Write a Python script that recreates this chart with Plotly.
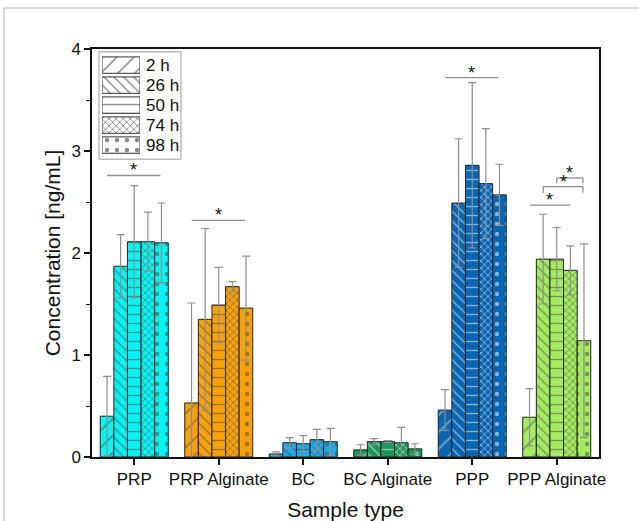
import plotly.graph_objects as go

categories = ["PRP", "PRP Alginate", "BC", "BC Alginate", "PPP", "PPP Alginate"]
time_labels = ["2 h", "26 h", "50 h", "74 h", "98 h"]

# mean concentration [ng/mL] per time point, per sample type
vals_2h = [0.40, 0.53, 0.03, 0.07, 0.46, 0.39]
vals_26h = [1.87, 1.35, 0.14, 0.15, 2.49, 1.94]
vals_50h = [2.11, 1.49, 0.13, 0.15, 2.86, 1.94]
vals_74h = [2.11, 1.67, 0.17, 0.14, 2.68, 1.83]
vals_98h = [2.10, 1.46, 0.15, 0.08, 2.57, 1.14]

# standard deviations
err_2h = [0.39, 0.98, 0.02, 0.05, 0.20, 0.28]
err_26h = [0.31, 0.89, 0.05, 0.03, 0.63, 0.44]
err_50h = [0.55, 0.37, 0.08, 0.01, 0.81, 0.31]
err_74h = [0.29, 0.05, 0.10, 0.15, 0.54, 0.24]
err_98h = [0.39, 0.51, 0.13, 0.05, 0.30, 0.95]

values = [vals_2h, vals_26h, vals_50h, vals_74h, vals_98h]
errors = [err_2h, err_26h, err_50h, err_74h, err_98h]

group_colors = ["#0AF2F2", "#F7A20C", "#22A8E6", "#18995A", "#0A66B2", "#A4EB62"]
pattern_shapes = ["/", "\\", "-", "x", "."]
pattern_sizes = [12, 7, 9, 5, 10]
pattern_solid = [0.12, 0.2, 0.15, 0.32, 0.15]

# significance: (category index, from offset, to offset, line y, bracket tick drop)
sig_cat = [0, 1, 4, 5, 5, 5]
sig_x0 = [-0.32, -0.32, -0.32, -0.32, -0.16, 0.0]
sig_x1 = [0.31, 0.31, 0.31, 0.16, 0.31, 0.31]
sig_y = [2.76, 2.32, 3.72, 2.47, 2.65, 2.735]
sig_drop = [0, 0, 0, 0, 0.06, 0.05]

FONT = "Liberation Sans, Arial, sans-serif"
fig = go.Figure()

for t in range(5):
    fig.add_trace(go.Bar(
        x=categories, y=values[t], name=time_labels[t], showlegend=False,
        error_y=dict(type="data", array=errors[t], color="#8f8f8f", thickness=1.2, width=4),
        marker=dict(
            color=group_colors,
            line=dict(color="#222222", width=1),
            pattern=dict(shape=pattern_shapes[t], fillmode="overlay", fgcolor="#111111",
                         size=pattern_sizes[t], solidity=pattern_solid[t]),
        ),
    ))

# inset legend with large swatches
fig.add_trace(go.Bar(
    x=[1] * 5, y=list(range(5)), orientation="h", xaxis="x2", yaxis="y2",
    width=0.82, showlegend=False, hoverinfo="skip",
    marker=dict(
        color="white", line=dict(color="#333333", width=1),
        pattern=dict(shape=pattern_shapes, fillmode="overlay", fgcolor="#111111",
                     size=pattern_sizes, solidity=pattern_solid),
    ),
))

shapes = []
annotations = []
for i in range(len(sig_cat)):
    c = sig_cat[i]
    xa, xb, y, d = c + sig_x0[i], c + sig_x1[i], sig_y[i], sig_drop[i]
    shapes.append(dict(type="line", xref="x", yref="y", x0=xa, x1=xb, y0=y, y1=y,
                       line=dict(color="#8f8f8f", width=1.3)))
    if d > 0:
        shapes.append(dict(type="line", xref="x", yref="y", x0=xa, x1=xa, y0=y, y1=y - d,
                           line=dict(color="#8f8f8f", width=1.3)))
        shapes.append(dict(type="line", xref="x", yref="y", x0=xb, x1=xb, y0=y, y1=y - d,
                           line=dict(color="#8f8f8f", width=1.3)))
    annotations.append(dict(x=(xa + xb) / 2, y=y, xref="x", yref="y", text="*",
                            showarrow=False, yanchor="bottom", yshift=-7,
                            font=dict(family=FONT, size=18, color="#111111")))

for i, lab in enumerate(time_labels):
    annotations.append(dict(x=0.103, y=i, xref="paper", yref="y2", text=lab, xanchor="left",
                            showarrow=False, font=dict(family=FONT, size=17, color="#111111")))

# legend border
shapes.append(dict(type="rect", xref="paper", yref="paper", x0=0.0138, x1=0.1755, y0=0.730, y1=0.993,
                   line=dict(color="#9a9a9a", width=1)))
# outer light frame
shapes.append(dict(type="line", xref="paper", yref="paper", x0=-0.1736, x1=1.08, y0=1.1005, y1=1.1005,
                   line=dict(color="#cccccc", width=1.5)))
shapes.append(dict(type="line", xref="paper", yref="paper", x0=-0.1736, x1=-0.1736, y0=1.1005, y1=-0.16,
                   line=dict(color="#cccccc", width=1.5)))

fig.update_layout(
    width=639, height=521,
    margin=dict(l=92, r=40, t=49, b=64),
    paper_bgcolor="white", plot_bgcolor="white",
    barmode="group", bargap=0.195, bargroupgap=0,
    font=dict(family=FONT, size=17, color="#111111"),
    shapes=shapes, annotations=annotations,
    xaxis=dict(
        range=[-0.5, 5.5], showline=True, linecolor="#111111", linewidth=1.5, mirror=True,
        ticks="outside", ticklen=6, tickwidth=1.5, tickcolor="#111111", showgrid=False,
        automargin=False,
        tickfont=dict(size=17), title=dict(text="Sample type", font=dict(size=21), standoff=19),
    ),
    yaxis=dict(
        range=[0, 4], dtick=1, showline=True, linecolor="#111111", linewidth=1.5, mirror=True,
        ticks="outside", ticklen=6, tickwidth=1.5, tickcolor="#111111", showgrid=False, zeroline=False,
        automargin=False,
        minor=dict(dtick=0.5, ticks="outside", ticklen=4, tickwidth=1.2, tickcolor="#111111", showgrid=False),
        tickfont=dict(size=17), title=dict(text="Concentration [ng/mL]", font=dict(size=21), standoff=5),
    ),
    xaxis2=dict(domain=[0.0197, 0.0947], range=[0, 1], anchor="y2", visible=False, fixedrange=True),
    yaxis2=dict(domain=[0.740, 0.985], range=[4.5, -0.5], anchor="x2", visible=False, fixedrange=True),
)

fig.write_html("out.html")
